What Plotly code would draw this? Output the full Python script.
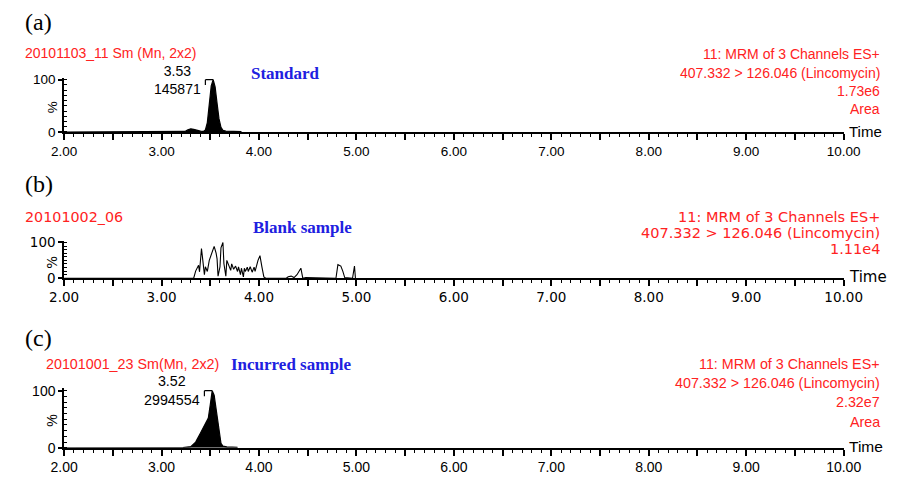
import plotly.graph_objects as go

# ---------------- data ----------------
std_time = [2.00, 3.20, 3.24, 3.27, 3.30, 3.33, 3.36, 3.40, 3.43, 3.45, 3.47, 3.49, 3.51, 3.53,
            3.55, 3.57, 3.59, 3.61, 3.63, 3.66, 3.72, 3.82]
std_pct = [0, 0, 1, 4, 6, 5, 3, 1.5, 1, 4, 18, 50, 88, 100, 86, 55, 25, 9, 3, 1.5, 1, 0.5]

blank_time = [2.00, 3.33, 3.35, 3.37, 3.38, 3.39, 3.41, 3.42, 3.44, 3.45, 3.47, 3.49, 3.52, 3.54,
              3.56, 3.57, 3.58, 3.60, 3.61, 3.63, 3.64, 3.66, 3.67, 3.69, 3.71, 3.72, 3.74, 3.76,
              3.78, 3.79, 3.81, 3.82, 3.84, 3.85, 3.86, 3.88, 3.89, 3.91, 3.93, 3.95, 3.96, 3.99,
              4.01, 4.03, 4.05, 4.07, 4.28, 4.30, 4.33, 4.36, 4.39, 4.43, 4.45, 4.48, 4.79, 4.81,
              4.84, 4.86, 4.88, 4.96, 4.98, 4.99]
blank_pct = [0, 0, 20, 30, 36, 18, 83, 59, 10, 32, 19, 50, 75, 89,
             70, 54, 6, 32, 85, 100, 41, 6, 50, 38, 22, 40, 25, 34,
             19, 32, 10, 28, 4, 28, 19, 31, 19, 32, 17, 31, 19, 50,
             63, 32, 4, 0, 0, 4, 6, 2, 10, 28, 0, 2, 0, 38,
             34, 20, 2, 0, 34, 0]

inc_time = [2.00, 3.22, 3.30, 3.35, 3.40, 3.45, 3.48, 3.50, 3.52, 3.54, 3.565, 3.59, 3.61, 3.63,
            3.67, 3.78]
inc_pct = [0, 0.5, 2, 10, 26, 42, 52, 75, 100, 92, 62, 25, 8, 3, 1.5, 1]

x_tick_vals = [2.0, 2.5, 3.0, 3.5, 4.0, 4.5, 5.0, 5.5, 6.0, 6.5, 7.0, 7.5, 8.0, 8.5, 9.0, 9.5, 10.0]
x_tick_labels = ["2.00", "", "3.00", "", "4.00", "", "5.00", "", "6.00", "", "7.00", "", "8.00", "",
                 "9.00", "", "10.00"]
y_tick_vals = [0, 100]
y_tick_labels = ["0", "100"]

panel_tags = ["(a)", "(b)", "(c)"]
file_names = ["20101103_11 Sm (Mn, 2x2)", "20101002_06", "20101001_23 Sm(Mn, 2x2)"]
sample_names = ["Standard", "Blank sample", "Incurred sample"]
channel_lines = [
    ["11: MRM of 3 Channels ES+", "407.332 > 126.046 (Lincomycin)", "1.73e6", "Area"],
    ["11: MRM of 3 Channels ES+", "407.332 > 126.046 (Lincomycin)", "1.11e4"],
    ["11: MRM of 3 Channels ES+", "407.332 > 126.046 (Lincomycin)", "2.32e7", "Area"],
]
peak_rt = [3.53, None, 3.52]
peak_area = ["145871", None, "2994554"]

# ---------------- styling ----------------
W, H = 905, 481
RED = "#ff2222"
BLUE = "#2020e0"
ARIAL = "Liberation Sans, Arial, sans-serif"
WIDE = "DejaVu Sans, Liberation Sans, sans-serif"
SERIF = "Liberation Serif, Times New Roman, serif"


def px(x):
    return x / W


def py(y):
    return 1 - y / H


YMAX = 104
# (pixel of 0, pixel of 100) for each panel
panel_px = [(129, 75), (280, 243), (455, 396)]
fonts = [(ARIAL, 14, 13.5), (WIDE, 14.5, 13.5), (ARIAL, 14.3, 14)]


def ydom(y0, y100):
    top = y0 - (y0 - y100) * YMAX / 100
    return [py(y0), py(top)]


fig = go.Figure()
series = [(std_time, std_pct, True), (blank_time, blank_pct, False), (inc_time, inc_pct, True)]
for i, (t, p, filled) in enumerate(series):
    sfx = "" if i == 0 else str(i + 1)
    fig.add_trace(go.Scatter(
        x=t, y=p, mode="lines", xaxis="x" + sfx, yaxis="y" + sfx,
        line=dict(color="black", width=1.2 if filled else 1.1),
        fill="tozeroy" if filled else None, fillcolor="black",
        hoverinfo="skip", showlegend=False))

layout = dict(width=W, height=H, margin=dict(l=0, r=0, t=0, b=0),
              paper_bgcolor="white", plot_bgcolor="rgba(0,0,0,0)", showlegend=False)

annotations = []
shapes = []
label_y = [[49, 68, 87, 105], [217, 233, 250], [368, 388, 408, 428]]
tag_y = [15, 183, 342]
name_pos = [(8, 47, ARIAL, 14), (8, 217, WIDE, 14.3), (30, 369, ARIAL, 14.3)]
sample_pos = [(243, 69), (245, 228), (222, 369)]
for i in range(3):
    sfx = "" if i == 0 else str(i + 1)
    fam, tsize, ticksize = fonts[i]
    y0, y100 = panel_px[i]
    layout["xaxis" + sfx] = dict(
        domain=[px(51), px(861)], range=[2, 10], anchor="y" + sfx,
        showgrid=False, zeroline=False, showline=True, linecolor="black", linewidth=1.6,
        tickmode="array", tickvals=x_tick_vals, ticktext=x_tick_labels,
        ticks="outside", ticklen=6, tickwidth=1.5, tickcolor="black",
        tickfont=dict(family=fam, size=ticksize, color="black"),
        minor=dict(tickmode="linear", tick0=2, dtick=0.1, ticks="outside", ticklen=3,
                   tickwidth=1.3, tickcolor="black"),
        fixedrange=True)
    layout["yaxis" + sfx] = dict(
        domain=ydom(y0, y100), range=[0, YMAX], anchor="x" + sfx,
        showgrid=False, zeroline=False, showline=True, linecolor="black", linewidth=1.6,
        tickmode="array", tickvals=y_tick_vals, ticktext=y_tick_labels,
        ticks="outside", ticklen=4, tickwidth=1.5, tickcolor="black",
        tickfont=dict(family=fam, size=ticksize, color="black"),
        minor=dict(tickmode="linear", tick0=0, dtick=10, ticks="inside", ticklen=3,
                   tickwidth=1.2, tickcolor="black"),
        fixedrange=True)

    # panel tag
    annotations.append(dict(x=px(8), y=py(tag_y[i]), xref="paper", yref="paper",
                            xanchor="left", yanchor="middle", text=panel_tags[i], showarrow=False,
                            font=dict(family=SERIF, size=24, color="black")))
    nx, ny, nf, ns = name_pos[i]
    annotations.append(dict(x=px(nx), y=py(ny), xref="paper", yref="paper",
                            xanchor="left", yanchor="middle", text=file_names[i], showarrow=False,
                            font=dict(family=nf, size=ns, color=RED)))
    sx, sy = sample_pos[i]
    annotations.append(dict(x=px(sx), y=py(sy), xref="paper", yref="paper",
                            xanchor="left", yanchor="middle", text="<b>%s</b>" % sample_names[i],
                            showarrow=False, font=dict(family=SERIF, size=17, color=BLUE)))
    for line, ly in zip(channel_lines[i], label_y[i]):
        annotations.append(dict(x=px(901), y=py(ly), xref="paper", yref="paper",
                                xanchor="right", yanchor="middle", text=line, showarrow=False,
                                font=dict(family=fam, size=tsize, color=RED)))
    # "Time" label
    annotations.append(dict(x=px(864), y=py(y0 - 1), xref="paper", yref="paper",
                            xanchor="left", yanchor="middle", text="Time", showarrow=False,
                            font=dict(family=fam, size=ticksize + 1.5, color="black")))
    # "%" label
    annotations.append(dict(x=px(39), y=py((y0 + y100) / 2 + 2), xref="paper", yref="paper",
                            xanchor="center", yanchor="middle", text="%", textangle=-90,
                            showarrow=False, font=dict(family=fam, size=ticksize, color="black")))
    # peak label
    if peak_rt[i] is not None:
        rt = peak_rt[i]
        annotations.append(dict(x=rt - 0.08, y=100, xref="x" + sfx, yref="y" + sfx,
                                xanchor="right", yanchor="middle", xshift=-2,
                                text="%.2f<br>%s" % (rt, peak_area[i]), align="center",
                                showarrow=False, font=dict(family=fam, size=tsize, color="black")))
        shapes.append(dict(type="line", xref="x" + sfx, yref="y" + sfx, x0=rt - 0.08, x1=rt,
                           y0=100, y1=100, line=dict(color="black", width=1.2)))
        shapes.append(dict(type="line", xref="x" + sfx, yref="y" + sfx, x0=rt - 0.08, x1=rt - 0.08,
                           y0=100, y1=90, line=dict(color="black", width=1.2)))

layout["annotations"] = annotations
layout["shapes"] = shapes
fig.update_layout(**layout)
fig.write_html("out.html", config={"displayModeBar": False},
               post_script="document.body.style.margin='0px';")
